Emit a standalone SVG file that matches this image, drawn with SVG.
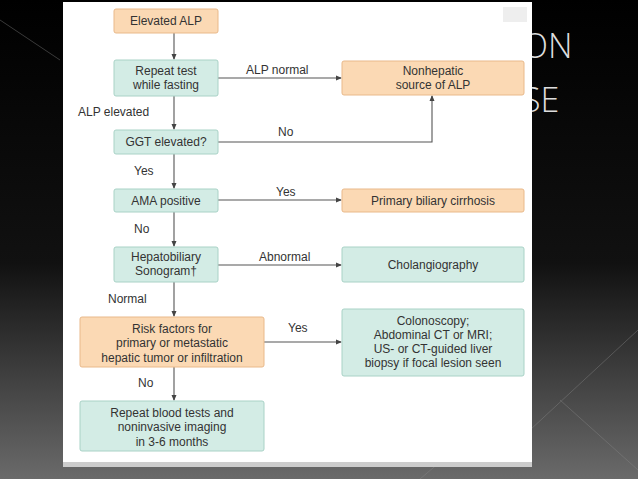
<svg xmlns="http://www.w3.org/2000/svg" width="638" height="479" viewBox="0 0 638 479">
<defs>
<linearGradient id="bg" x1="0" y1="0" x2="0" y2="1"><stop offset="0" stop-color="#000"/><stop offset="0.55" stop-color="#111"/><stop offset="1" stop-color="#6a6a6a"/></linearGradient>
<marker id="ar" markerWidth="6" markerHeight="6" refX="5" refY="3" orient="auto" markerUnits="userSpaceOnUse"><path d="M0,0.5 L6,3 L0,5.5 z" fill="#444"/></marker>
<style>
.o{fill:#fbd9b4;stroke:#e9b98a;stroke-width:1}
.g{fill:#d3ece5;stroke:#a9d2c6;stroke-width:1}
text{font-family:"Liberation Sans",Arial,sans-serif;font-size:12px;fill:#333}
.c{text-anchor:middle}
.l{fill:none;stroke:#555;stroke-width:1.1}
</style>
</defs>
<rect width="638" height="479" fill="url(#bg)"/>
<g stroke="#888" stroke-width="0.7" fill="none" opacity="0.6">
<path d="M0,20 L60,60"/><path d="M530,430 L638,330"/><path d="M560,400 L638,470"/><path d="M420,479 L440,462"/>
</g>
<text x="522" y="58" style="font-size:34px;fill:#ddd;font-family:'Open Sans',sans-serif;font-weight:300">ON</text>
<text x="522" y="112" style="font-size:34px;fill:#ddd;font-family:'Open Sans',sans-serif;font-weight:300">SE</text>
<rect x="63" y="2" width="469" height="465" fill="#fff"/>
<rect x="63" y="462" width="469" height="5" fill="#ccc"/>
<rect x="503" y="7" width="24" height="15" fill="#eee"/>
<g id="connectors">
<path class="l" d="M174,33 V59" marker-end="url(#ar)"/>
<path class="l" d="M174,96 V129" marker-end="url(#ar)"/>
<path class="l" d="M174,154 V188" marker-end="url(#ar)"/>
<path class="l" d="M174,212 V246" marker-end="url(#ar)"/>
<path class="l" d="M174,282 V316" marker-end="url(#ar)"/>
<path class="l" d="M174,367 V400" marker-end="url(#ar)"/>
<path class="l" d="M218,78 H341" marker-end="url(#ar)"/>
<path class="l" d="M218,142 H432 V96" marker-end="url(#ar)"/>
<path class="l" d="M218,200 H341" marker-end="url(#ar)"/>
<path class="l" d="M218,265 H341" marker-end="url(#ar)"/>
<path class="l" d="M264,342 H341" marker-end="url(#ar)"/>
<text x="246" y="74">ALP normal</text>
<text x="78" y="116">ALP elevated</text>
<text x="278" y="136">No</text>
<text x="134" y="175">Yes</text>
<text x="276" y="196">Yes</text>
<text x="134" y="233">No</text>
<text x="259" y="261">Abnormal</text>
<text x="108" y="303">Normal</text>
<text x="288" y="332">Yes</text>
<text x="138" y="387">No</text>
</g>
<g id="n1"><rect class="o" x="114" y="9" width="104" height="24" rx="2"/><text class="c" x="166" y="25">Elevated ALP</text></g>
<g id="n2"><rect class="g" x="114" y="60" width="104" height="36" rx="2"/><text class="c" x="166" y="75">Repeat test</text><text class="c" x="166" y="89">while fasting</text></g>
<g id="n3"><rect class="o" x="342" y="61" width="182" height="34" rx="2"/><text class="c" x="433" y="75">Nonhepatic</text><text class="c" x="433" y="89">source of ALP</text></g>
<g id="n4"><rect class="g" x="114" y="130" width="104" height="24" rx="2"/><text class="c" x="166" y="146">GGT elevated?</text></g>
<g id="n5"><rect class="g" x="114" y="189" width="104" height="23" rx="2"/><text class="c" x="166" y="205">AMA positive</text></g>
<g id="n6"><rect class="o" x="342" y="189" width="182" height="23" rx="2"/><text class="c" x="433" y="205">Primary biliary cirrhosis</text></g>
<g id="n7"><rect class="g" x="114" y="247" width="104" height="35" rx="2"/><text class="c" x="166" y="261">Hepatobiliary</text><text class="c" x="166" y="275">Sonogram†</text></g>
<g id="n8"><rect class="g" x="342" y="247" width="182" height="35" rx="2"/><text class="c" x="433" y="269">Cholangiography</text></g>
<g id="n9"><rect class="o" x="80" y="317" width="184" height="50" rx="2"/><text class="c" x="172" y="333">Risk factors for</text><text class="c" x="172" y="347">primary or metastatic</text><text class="c" x="172" y="362">hepatic tumor or infiltration</text></g>
<g id="n10"><rect class="g" x="342" y="309" width="182" height="67" rx="2"/><text class="c" x="433" y="325">Colonoscopy;</text><text class="c" x="433" y="339">Abdominal CT or MRI;</text><text class="c" x="433" y="353">US- or CT-guided liver</text><text class="c" x="433" y="367">biopsy if focal lesion seen</text></g>
<g id="n11"><rect class="g" x="80" y="401" width="184" height="50" rx="2"/><text class="c" x="172" y="417">Repeat blood tests and</text><text class="c" x="172" y="431">noninvasive imaging</text><text class="c" x="172" y="446">in 3-6 months</text></g>
</svg>
